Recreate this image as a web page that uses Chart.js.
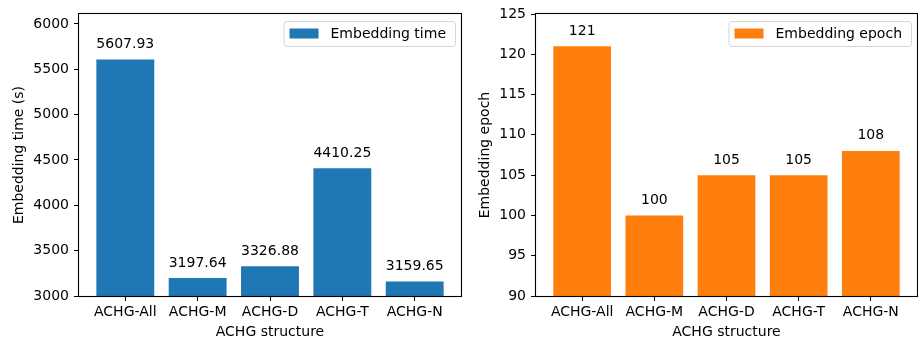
<!DOCTYPE html>
<html>
<head>
<meta charset="utf-8">
<script src="https://cdn.jsdelivr.net/npm/chart.js@4/dist/chart.umd.min.js"></script>
<style>
  html, body { margin: 0; padding: 0; background: #fff; }
  #wrap { position: relative; width: 918px; height: 339px; overflow: hidden; }
  canvas { position: absolute; top: 0; }
</style>
</head>
<body>
<div id="wrap">
  <canvas id="c1" width="468" height="339" style="left:0px"></canvas>
  <canvas id="c2" width="450" height="339" style="left:468px"></canvas>
</div>
<script>
// ---- data ----
const categories = ['ACHG-All', 'ACHG-M', 'ACHG-D', 'ACHG-T', 'ACHG-N'];
const timeValues = [5607.93, 3197.64, 3326.88, 4410.25, 3159.65];
const epochValues = [121, 100, 105, 105, 108];
const timeTicks = [3000, 3500, 4000, 4500, 5000, 5500, 6000];
const epochTicks = [90, 95, 100, 105, 110, 115, 120, 125];
const xTitle = 'ACHG structure';
const timeLabel = 'Embedding time';
const epochLabel = 'Embedding epoch';
const timeAxisTitle = 'Embedding time (s)';
const epochAxisTitle = 'Embedding epoch';

const FONT = 'DejaVu Sans';
const FS = 14;

const framePlugin = {
  id: 'frame',
  afterDatasetsDraw(chart) {
    const ctx = chart.ctx, a = chart.chartArea;
    ctx.save();
    ctx.strokeStyle = '#000';
    ctx.lineWidth = 1.1;
    ctx.strokeRect(Math.round(a.left) - 0.5, Math.round(a.top) - 0.5,
                   Math.round(a.right - a.left) + 1, Math.round(a.bottom - a.top) + 1);
    ctx.restore();
  }
};

function makeValueLabelPlugin(fmt) {
  return {
    id: 'valueLabels',
    afterDatasetsDraw(chart) {
      const ctx = chart.ctx;
      ctx.save();
      ctx.font = FS + 'px "' + FONT + '"';
      ctx.fillStyle = '#000';
      ctx.textAlign = 'center';
      ctx.textBaseline = 'alphabetic';
      chart.data.datasets.forEach((ds, di) => {
        chart.getDatasetMeta(di).data.forEach((el, i) => {
          ctx.fillText(fmt(ds.data[i].y), el.x, el.y - 11.5);
        });
      });
      ctx.restore();
    }
  };
}

const boxLegendPlugin = {
  id: 'boxLegend',
  afterDraw(chart) {
    const ctx = chart.ctx, a = chart.chartArea;
    const ds = chart.data.datasets[0];
    ctx.save();
    ctx.font = FS + 'px "' + FONT + '"';
    const tw = ctx.measureText(ds.label).width;
    const w = 6 + 29 + 12 + tw + 9;
    const h = 25;
    const right = a.right - 6;
    const left = right - w;
    const top = a.top + 7;
    ctx.beginPath();
    if (ctx.roundRect) ctx.roundRect(left + 0.5, top + 0.5, w, h, 3);
    else ctx.rect(left + 0.5, top + 0.5, w, h);
    ctx.fillStyle = 'rgba(255,255,255,0.8)';
    ctx.fill();
    ctx.strokeStyle = '#d6d6d6';
    ctx.lineWidth = 1;
    ctx.stroke();
    ctx.fillStyle = ds.backgroundColor;
    ctx.fillRect(left + 6, top + h / 2 - 5, 29, 10);
    ctx.fillStyle = '#000';
    ctx.textAlign = 'left';
    ctx.textBaseline = 'middle';
    ctx.fillText(ds.label, left + 6 + 29 + 12, top + h / 2 + 1);
    ctx.restore();
  }
};

function makeChart(id, opts) {
  const data = opts.values.map((v, i) => ({ x: i, y: v }));
  return new Chart(document.getElementById(id), {
    type: 'bar',
    data: {
      datasets: [{
        label: opts.label,
        data: data,
        backgroundColor: opts.color,
        borderWidth: 0,
        barPercentage: 0.8,
        categoryPercentage: 1.0
      }]
    },
    plugins: [framePlugin, makeValueLabelPlugin(opts.format), boxLegendPlugin],
    options: {
      responsive: false,
      animation: false,
      devicePixelRatio: 1,
      layout: { padding: { left: 0, top: 14, right: opts.padRight, bottom: 0 } },
      plugins: {
        legend: { display: false },
        tooltip: { enabled: false }
      },
      scales: {
        x: {
          type: 'linear',
          min: -0.64,
          max: categories.length - 1 + 0.64,
          offset: false,
          afterBuildTicks: s => { s.ticks = categories.map((c, i) => ({ value: i })); },
          afterFit: s => { s.height = 43; },
          ticks: {
            callback: v => categories[v],
            color: '#000',
            font: { family: FONT, size: FS },
            padding: 3,
            maxRotation: 0,
            autoSkip: false
          },
          grid: { offset: false, drawOnChartArea: false, drawTicks: true, tickLength: 5, color: '#000', lineWidth: 1 },
          border: { display: false },
          title: {
            display: true, text: xTitle, color: '#000',
            font: { family: FONT, size: FS, lineHeight: 1.0 },
            padding: { top: 0, bottom: 0 }
          }
        },
        y: {
          type: 'linear',
          min: opts.yMin,
          max: opts.yMax,
          afterBuildTicks: s => { s.ticks = opts.ticks.map(v => ({ value: v })); },
          afterFit: s => { s.width = opts.yWidth; },
          ticks: {
            callback: v => String(v),
            color: '#000',
            font: { family: FONT, size: FS },
            padding: 5
          },
          grid: { drawOnChartArea: false, drawTicks: true, tickLength: 5, color: '#000', lineWidth: 1 },
          border: { display: false },
          title: {
            display: true, text: opts.axisTitle, color: '#000',
            font: { family: FONT, size: FS, lineHeight: 1.2 },
            padding: { top: opts.titlePad, bottom: 0 }
          }
        }
      }
    }
  });
}

makeChart('c1', {
  values: timeValues, label: timeLabel, color: '#1f77b4',
  yMin: 3000, yMax: 6110, ticks: timeTicks, yWidth: 79, padRight: 7,
  axisTitle: timeAxisTitle, titlePad: 10.7,
  format: v => v.toFixed(2)
});
makeChart('c2', {
  values: epochValues, label: epochLabel, color: '#ff7f0e',
  yMin: 90, yMax: 125, ticks: epochTicks, yWidth: 68, padRight: 1,
  axisTitle: epochAxisTitle, titlePad: 8.7,
  format: v => String(v)
});
</script>
</body>
</html>
